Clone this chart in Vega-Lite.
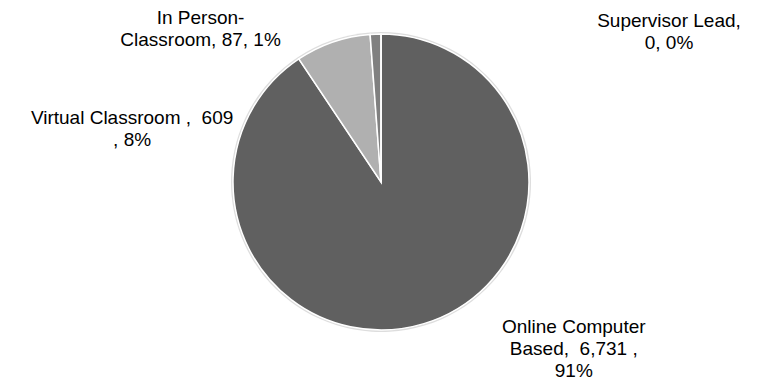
{
  "$schema": "https://vega.github.io/schema/vega-lite/v6.json",
  "autosize": {"type": "none"},
  "width": 762,
  "height": 364,
  "padding": {"left": 0, "top": 0, "right": 18, "bottom": 20},
  "background": "white",
  "config": {"view": {"stroke": null}},
  "data": {
    "values": [
      {"idx": 1, "category": "Online Computer Based", "count": 6731, "label": "Online Computer\nBased,\u00a0\u00a06,731 ,\n91%"},
      {"idx": 2, "category": "Virtual Classroom", "count": 609, "label": "Virtual Classroom ,\u00a0\u00a0609\n, 8%"},
      {"idx": 3, "category": "In Person-Classroom", "count": 87, "label": "In Person-\nClassroom, 87, 1%"},
      {"idx": 4, "category": "Supervisor Lead", "count": 0, "label": "Supervisor Lead,\n0, 0%"}
    ]
  },
  "encoding": {
    "theta": {"field": "count", "type": "quantitative", "stack": true},
    "order": {"field": "idx", "type": "quantitative"}
  },
  "layer": [
    {
      "mark": {"type": "arc", "radius": 150, "fill": "#d4d4d4", "opacity": 0.8}
    },
    {
      "mark": {"type": "arc", "radius": 148, "stroke": "white", "strokeWidth": 1.5},
      "encoding": {
        "color": {
          "field": "category",
          "type": "nominal",
          "scale": {
            "domain": ["Online Computer Based", "Virtual Classroom", "In Person-Classroom", "Supervisor Lead"],
            "range": ["#606060", "#b0b0b0", "#808080", "#404040"]
          },
          "legend": null
        }
      }
    },
    {
      "mark": {"type": "text", "radius": 175, "dx": 142, "dy": -22, "align": "center", "baseline": "middle", "lineBreak": "\n", "lineHeight": 22, "font": "Liberation Sans", "fontSize": 19, "fill": "#000000"},
      "encoding": {"text": {"condition": {"test": "datum.idx == 1", "field": "label"}, "value": ""}}
    },
    {
      "mark": {"type": "text", "radius": 175, "dx": -192, "dy": 101, "align": "center", "baseline": "middle", "lineBreak": "\n", "lineHeight": 22, "font": "Liberation Sans", "fontSize": 19, "fill": "#000000"},
      "encoding": {"text": {"condition": {"test": "datum.idx == 2", "field": "label"}, "value": ""}}
    },
    {
      "mark": {"type": "text", "radius": 175, "dx": -174, "dy": 11, "align": "center", "baseline": "middle", "lineBreak": "\n", "lineHeight": 22, "font": "Liberation Sans", "fontSize": 19, "fill": "#000000"},
      "encoding": {"text": {"condition": {"test": "datum.idx == 3", "field": "label"}, "value": ""}}
    },
    {
      "mark": {"type": "text", "radius": 175, "dx": 288, "dy": 14, "align": "center", "baseline": "middle", "lineBreak": "\n", "lineHeight": 22, "font": "Liberation Sans", "fontSize": 19, "fill": "#000000"},
      "encoding": {"text": {"condition": {"test": "datum.idx == 4", "field": "label"}, "value": ""}}
    }
  ]
}
